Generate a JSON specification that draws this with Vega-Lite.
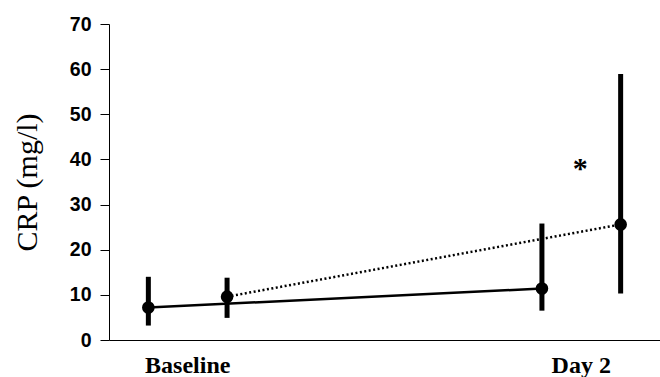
{
  "$schema": "https://vega.github.io/schema/vega-lite/v6.json",
  "width": 551,
  "height": 316,
  "autosize": "none",
  "padding": {"left": 109, "top": 24, "right": 0, "bottom": 37},
  "background": "white",
  "config": {"view": {"stroke": null}},
  "data": {
    "values": [
      {"time": "Baseline", "group": "A", "crp": 7.2, "lo": 3.2, "hi": 14.0},
      {"time": "Day 2", "group": "A", "crp": 11.4, "lo": 6.5, "hi": 25.8},
      {"time": "Baseline", "group": "B", "crp": 9.6, "lo": 4.9, "hi": 13.8},
      {"time": "Day 2", "group": "B", "crp": 25.6, "lo": 10.3, "hi": 58.9}
    ]
  },
  "encoding": {
    "x": {
      "field": "time", "type": "nominal", "sort": ["Baseline", "Day 2"],
      "scale": {"paddingInner": 0.6, "paddingOuter": 0},
      "axis": {
        "title": null, "labelAngle": 0, "ticks": false, "domainColor": "black", "domainWidth": 1,
        "labelFont": "Liberation Serif", "labelFontWeight": "bold", "labelFontSize": 24,
        "labelColor": "#000000", "labelPadding": 13, "labelDx": 4
      }
    },
    "xOffset": {"field": "group", "type": "nominal", "sort": ["A", "B"]}
  },
  "layer": [
    {
      "mark": {"type": "rule", "strokeWidth": 5, "color": "black"},
      "encoding": {
        "y": {"field": "lo", "type": "quantitative"},
        "y2": {"field": "hi"}
      }
    },
    {
      "transform": [{"filter": "datum.group === 'A'"}],
      "mark": {"type": "line", "strokeWidth": 2.5, "color": "black"},
      "encoding": {"y": {"field": "crp", "type": "quantitative"}}
    },
    {
      "transform": [{"filter": "datum.group === 'B'"}],
      "mark": {"type": "line", "strokeWidth": 2.5, "color": "black", "strokeDash": [2, 2.5]},
      "encoding": {"y": {"field": "crp", "type": "quantitative"}}
    },
    {
      "mark": {"type": "point", "filled": true, "size": 160, "color": "black", "opacity": 1},
      "encoding": {
        "y": {
          "field": "crp", "type": "quantitative",
          "scale": {"domain": [0, 70], "nice": false},
          "axis": {
            "title": "CRP (mg/l)", "values": [0, 10, 20, 30, 40, 50, 60, 70], "grid": false,
            "domainColor": "black", "tickColor": "black", "tickSize": 9,
            "labelFont": "Liberation Sans", "labelFontWeight": "bold", "labelFontSize": 19.5,
            "labelColor": "#000000", "labelPadding": 9,
            "titleFont": "Liberation Serif", "titleFontWeight": "normal", "titleFontSize": 30,
            "titleColor": "#000000", "titlePadding": 27
          }
        }
      }
    },
    {
      "data": {"values": [{"time": "Day 2", "y": 39.2, "label": "*"}]},
      "mark": {"type": "text", "font": "Liberation Serif", "fontSize": 30, "fontWeight": "bold", "color": "black", "baseline": "middle", "dy": 6, "dx": -1},
      "encoding": {
        "xOffset": null,
        "y": {"field": "y", "type": "quantitative"},
        "text": {"field": "label"}
      }
    }
  ]
}
